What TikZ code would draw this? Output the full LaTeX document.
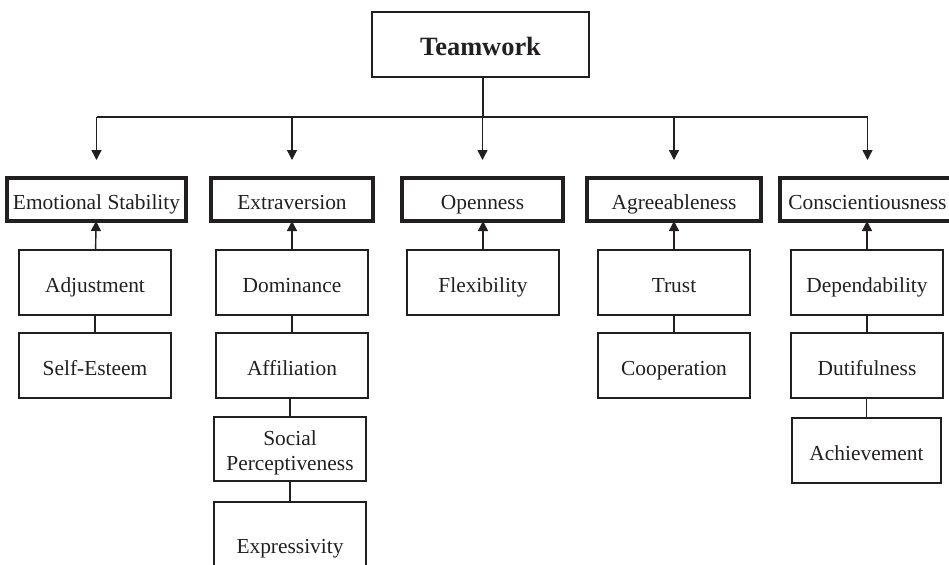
\documentclass[tikz,border=0pt]{standalone}
\usepackage{fontspec}
\setmainfont{Liberation Serif}
\usepackage{xcolor}
\usetikzlibrary{arrows.meta}
\definecolor{ink}{HTML}{231F20}

\begin{document}
\begin{tikzpicture}[x=0.5pt,y=-0.5pt,color=ink,
	every node/.style={inner sep=0pt,outer sep=0pt,font=\fontsize{10.7}{12.5}\selectfont},
	topbox/.style={draw,line width=1pt,minimum width=108.5pt,minimum height=32.5pt,text height=11pt,text depth=0.5pt,font=\fontsize{13.2}{15}\selectfont\bfseries},
	factorbox/.style={draw,line width=1.6pt,minimum height=21.5pt,text height=10pt,text depth=0.5pt},
	facetbox/.style={draw,line width=0.7pt,minimum width=76pt,minimum height=32.5pt,align=center,text height=10.7pt,text depth=0.5pt},
	link/.style={line width=0.7pt},
	down/.style={link,-{Triangle[width=5pt,length=5pt]},shorten >=9pt},
	up/.style={link,-{Triangle[width=5pt,length=5pt]}}]
				\useasboundingbox (0,0) rectangle (949,564);
				\node[topbox] (team) at (480.5,44.5){Teamwork};
				\coordinate (split) at (483,117);
				\node[factorbox,minimum width=89.5pt] (es) at (96.5,199.5){Emotional Stability};
				\node[factorbox,minimum width=81pt] (ext) at (292,199.5){Extraversion};
				\node[factorbox,minimum width=80.5pt] (open) at (482.5,199.5){Openness};
				\node[factorbox,minimum width=87pt] (agr) at (674,199.5){Agreeableness};
				\node[factorbox,minimum width=87.5pt] (cons) at (867.5,199.5){Conscientiousness};
				\node[facetbox] (adj) at (95,282.5){Adjustment};
				\node[facetbox] (self) at (95,365.5){Self-Esteem};
				\node[facetbox] (dom) at (292,282.5){Dominance};
				\node[facetbox] (aff) at (292,365.5){Affiliation};
				\node[facetbox,text height=23.5pt,text depth=2.3pt,minimum height=32pt] (soc) at (290,449){Social\\Perceptiveness};
				\node[facetbox,minimum height=41pt] (expr) at (290,543){Expressivity};
				\node[facetbox] (flex) at (483,282.5){Flexibility};
				\node[facetbox] (trust) at (674,282.5){Trust};
				\node[facetbox] (coop) at (674,365.5){Cooperation};
				\node[facetbox] (dep) at (867,282.5){Dependability};
				\node[facetbox] (dut) at (867,365.5){Dutifulness};
				\node[facetbox,minimum width=74.5pt] (ach) at (866.5,450.5){Achievement};
				\begin{scope}
				\draw[link] (team.south -| split)--(split);
				\draw[link] (es.north |- split)--(cons.north |- split);
				\foreach \f in {es,ext,open,agr,cons}
					\draw[down] (\f.north |- split)--(\f.north);
				\draw[up] (adj)--(es);
				\draw[up] (dom)--(ext);
				\draw[up] (flex.north)--(flex.north |- open.south);
				\draw[up] (trust)--(agr);
				\draw[up] (dep.north)--(dep.north |- cons.south);
				\draw[link] (adj)--(self);
				\draw[link] (dom)--(aff);
				\draw[link] (soc.north)--(soc.north |- aff.south);
				\draw[link] (soc)--(expr);
				\draw[link] (trust)--(coop);
				\draw[link] (dep)--(dut);
				\draw[link] (ach.north)--(ach.north |- dut.south);
				\end{scope}
			\end{tikzpicture}
\end{document}
